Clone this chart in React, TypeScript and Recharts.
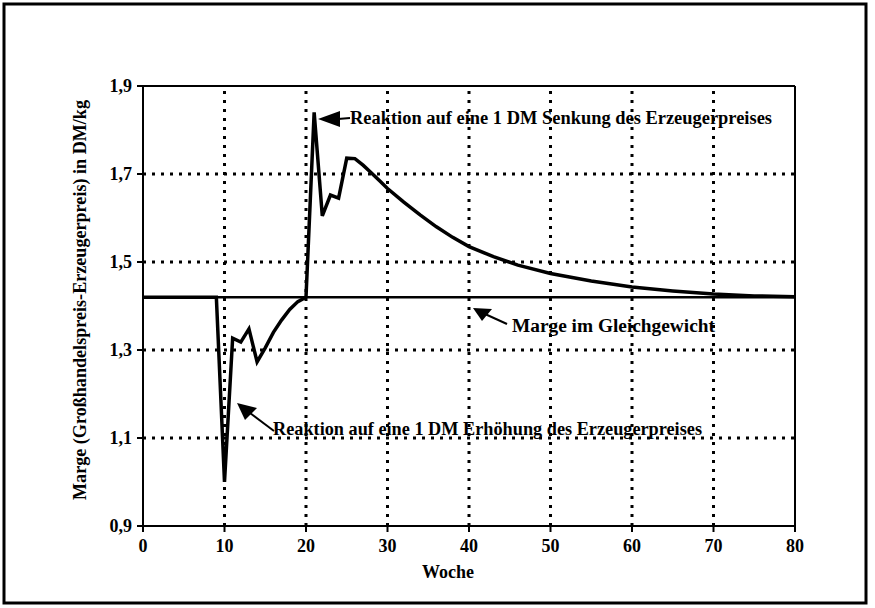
import { LineChart, Line, XAxis, YAxis, ReferenceLine } from 'recharts';

// Reaktion auf eine 1 DM Erhöhung des Erzeugerpreises (Woche 0-20)
const increaseWeeks = [0, 9, 10, 11, 12, 13, 14, 15, 16, 17, 18, 19, 20];
const increaseValues = [1.42, 1.42, 1.0, 1.327, 1.318, 1.348, 1.273, 1.305, 1.34, 1.368, 1.392, 1.41, 1.42];

// Reaktion auf eine 1 DM Senkung des Erzeugerpreises (Woche 20-80)
const decreaseWeeks = [20, 21, 22, 23, 24, 25, 26, 27, 28, 29, 30, 32, 34, 36, 38, 40, 43, 46, 50, 55, 60, 65, 70, 75, 80];
const decreaseValues = [1.42, 1.84, 1.605, 1.652, 1.645, 1.736, 1.735, 1.72, 1.703, 1.685, 1.667, 1.636, 1.607, 1.58, 1.556, 1.535, 1.512, 1.493, 1.474, 1.457, 1.443, 1.434, 1.427, 1.423, 1.421];

const equilibrium = 1.42;

const xTicks = [0, 10, 20, 30, 40, 50, 60, 70, 80];
const yTicks = [0.9, 1.1, 1.3, 1.5, 1.7, 1.9];
const xGrid = [10, 20, 30, 40, 50, 60, 70];
const yGrid = [1.1, 1.3, 1.5, 1.7];

const rows: { week: number; increase?: number; decrease?: number }[] = [];
increaseWeeks.forEach((w, i) => rows.push({ week: w, increase: increaseValues[i] }));
decreaseWeeks.forEach((w, i) => {
  const found = rows.find((r) => r.week === w);
  if (found) found.decrease = decreaseValues[i];
  else rows.push({ week: w, decrease: decreaseValues[i] });
});
rows.sort((a, b) => a.week - b.week);

const FONT = '"Liberation Serif", "Times New Roman", serif';
const tickStyle = { fontFamily: FONT, fontSize: 18, fontWeight: 700, fill: '#000' };
const textStyle = { fontFamily: FONT, fontSize: 18, fontWeight: 700, fill: '#000' } as const;

const App = () => {
  return (
    <div style={{ position: 'absolute', left: 0, top: 0, width: 875, height: 608, background: '#fff' }}>
      <LineChart width={875} height={608} data={rows} margin={{ top: 86, right: 80, left: 83, bottom: 52 }}>
        <XAxis
          dataKey="week"
          type="number"
          domain={[0, 80]}
          ticks={xTicks}
          tick={tickStyle}
          tickSize={6}
          tickMargin={7}
          height={30}
          axisLine={{ stroke: '#000', strokeWidth: 2 }}
          tickLine={{ stroke: '#000', strokeWidth: 2 }}
        />
        <YAxis
          type="number"
          domain={[0.9, 1.9]}
          ticks={yTicks}
          tickFormatter={(v: number) => v.toFixed(1).replace('.', ',')}
          tick={tickStyle}
          tickSize={6}
          tickMargin={5}
          width={60}
          axisLine={{ stroke: '#000', strokeWidth: 2 }}
          tickLine={{ stroke: '#000', strokeWidth: 2 }}
        />
        {xGrid.map((x) => (
          <ReferenceLine key={`vx-${x}`} x={x} stroke="#000" strokeWidth={3} strokeDasharray="3 6" />
        ))}
        {yGrid.map((y) => (
          <ReferenceLine key={`hy-${y}`} y={y} stroke="#000" strokeWidth={3} strokeDasharray="3 6" />
        ))}
        <ReferenceLine y={1.9} stroke="#000" strokeWidth={2} />
        <ReferenceLine x={80} stroke="#000" strokeWidth={2} />
        <ReferenceLine y={equilibrium} stroke="#000" strokeWidth={2.5} />
        <Line
          dataKey="increase"
          type="linear"
          stroke="#000"
          strokeWidth={3.5}
          dot={false}
          isAnimationActive={false}
        />
        <Line
          dataKey="decrease"
          type="linear"
          stroke="#000"
          strokeWidth={3.5}
          dot={false}
          isAnimationActive={false}
        />
      </LineChart>
      <svg
        width={875}
        height={608}
        style={{ position: 'absolute', left: 0, top: 0, pointerEvents: 'none' }}
      >
        <rect x={4} y={4} width={862} height={599} fill="none" stroke="#000" strokeWidth={3} />
        <text
          x={86}
          y={300}
          textAnchor="middle"
          transform="rotate(-90 86 300)"
          textLength={400}
          lengthAdjust="spacingAndGlyphs"
          style={textStyle}
        >
          Marge (Großhandelspreis-Erzeugerpreis) in DM/kg
        </text>
        <text x={448} y={578} textAnchor="middle" style={textStyle}>
          Woche
        </text>

        <polygon points="318,119 340,111 340,127" fill="#000" />
        <line x1={338} y1={119} x2={350} y2={118} stroke="#000" strokeWidth={2} />
        <text x={350} y={124} textLength={422} lengthAdjust="spacingAndGlyphs" style={textStyle}>
          Reaktion auf eine 1 DM Senkung des Erzeugerpreises
        </text>

        <polygon points="473,308 492,309 482,321" fill="#000" />
        <line x1={485} y1={314} x2={507} y2={324} stroke="#000" strokeWidth={2} />
        <text x={512} y={332} textLength={203} lengthAdjust="spacingAndGlyphs" style={textStyle}>
          Marge im Gleichgewicht
        </text>

        <polygon points="237,403 257,408 245,420" fill="#000" />
        <line x1={250} y1={413} x2={274} y2={431} stroke="#000" strokeWidth={2} />
        <text x={273} y={435} textLength={429} lengthAdjust="spacingAndGlyphs" style={textStyle}>
          Reaktion auf eine 1 DM Erhöhung des Erzeugerpreises
        </text>
      </svg>
    </div>
  );
};

export default App;
